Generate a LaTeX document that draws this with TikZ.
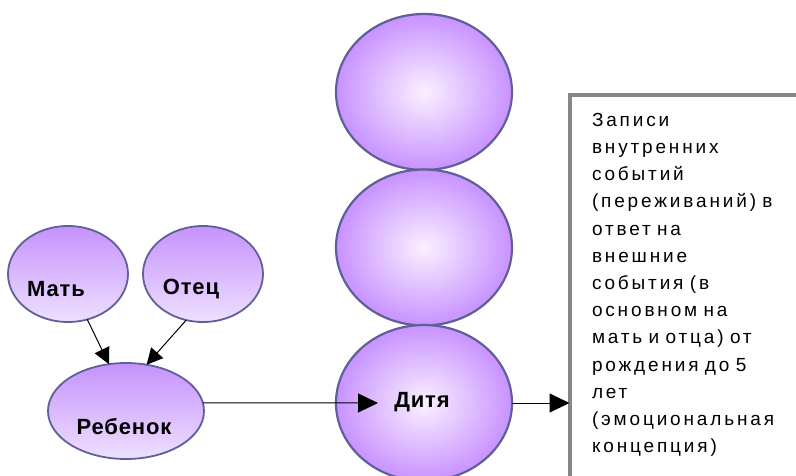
\documentclass[tikz,border=0pt]{standalone}
\usepackage{fontspec}
\setmainfont{Liberation Sans}
\usetikzlibrary{shapes.geometric,arrows.meta}
\definecolor{edgeblue}{RGB}{96,96,152}
\definecolor{lilac}{RGB}{200,146,255}
\definecolor{lilaclight}{RGB}{250,240,255}
\definecolor{ovaltop}{RGB}{198,146,252}
\definecolor{ovalbot}{RGB}{238,224,255}
\definecolor{boxgray}{RGB}{135,135,135}
\begin{document}
\begin{tikzpicture}[x=1pt,y=-1pt,
  ball/.style={ellipse, draw=edgeblue, line width=2.2pt, inner color=lilaclight, outer color=lilac,
    minimum width=176pt, minimum height=156pt, inner sep=0pt, outer sep=0pt},
  oval/.style={ellipse, draw=edgeblue, line width=1.8pt, top color=ovaltop, bottom color=ovalbot,
    inner sep=0pt, outer sep=0pt},
  lbl/.style={font=\fontsize{22}{26}\selectfont\bfseries\addfontfeature{LetterSpace=4}, anchor=base, inner sep=0pt},
  conn/.style={draw=black, line width=1pt, -{Triangle[length=20pt,width=19pt]}},
  connsmall/.style={draw=black, line width=1pt, -{Triangle[length=16pt,width=16pt]}},
  notebox/.style={draw=boxgray, line width=4pt, anchor=north west, inner xsep=22.5pt, inner ysep=18pt,
    outer sep=0pt, text width=230pt, align=left, text depth=400pt,
    font=\fontsize{19}{27.2}\selectfont\addfontfeature{LetterSpace=15}}
]
\clip (0,0) rectangle (796,476);
\fill[white] (0,0) rectangle (796,476);

\node[ball] (c1) at (424,92) {};
\node[ball] (c2) at (424,247.5) {};
\node[ball, label={[lbl, xshift=-2pt, yshift=1pt]center:Дитя}] (c3) at (424,403) {};

\node[oval, minimum width=120pt, minimum height=96pt,
  label={[lbl, xshift=-12pt, yshift=-15pt]center:Мать}] (mat) at (68,274) {};
\node[oval, minimum width=120pt, minimum height=96pt,
  label={[lbl, xshift=-12pt, yshift=-15pt]center:Отец}] (otec) at (203,274) {};
\node[oval, minimum width=156pt, minimum height=96pt,
  label={[lbl, xshift=-2pt, yshift=-16pt]center:Ребенок}] (reb) at (126,411) {};

\node[notebox] (box) at (569.5,95) {Записи\\внутренних\\событий\\(переживаний) в\\ответ на\\внешние\\события (в\\основном на\\мать и отца) от\\рождения до 5\\лет\\(эмоциональная\\концепция)};

\draw[connsmall] (mat.-67) -- (reb.110);
\draw[connsmall] (otec.-110) -- (reb.66);
\draw[conn] (reb.6) -- ([xshift=42pt]c3.west);
\draw[conn] (c3.east) -- (c3.east -| box.west);
\end{tikzpicture}
\end{document}
